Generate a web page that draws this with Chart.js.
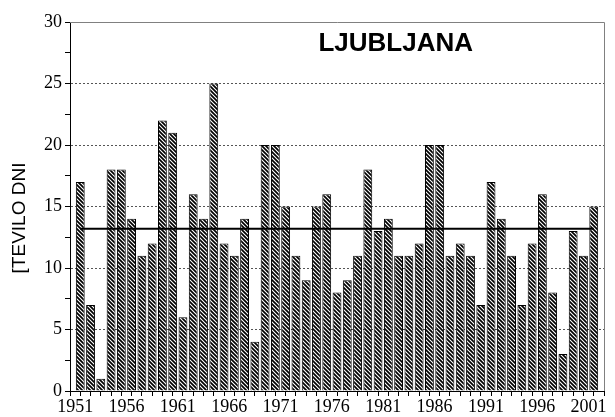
<!DOCTYPE html>
<html>
<head>
<meta charset="utf-8">
<script src="https://cdn.jsdelivr.net/npm/chart.js@4/dist/chart.umd.min.js"></script>
<style>
    html, body { margin: 0; padding: 0; background: #fff; }
    #wrap { width: 615px; height: 417px; }
</style>
</head>
<body>
<div id="wrap"><canvas id="chart" width="615" height="417"></canvas></div>
<script>
'use strict';

// leta (kategorije)
const years = [
    1951, 1952, 1953, 1954, 1955, 1956, 1957, 1958, 1959, 1960,
    1961, 1962, 1963, 1964, 1965, 1966, 1967, 1968, 1969, 1970,
    1971, 1972, 1973, 1974, 1975, 1976, 1977, 1978, 1979, 1980,
    1981, 1982, 1983, 1984, 1985, 1986, 1987, 1988, 1989, 1990,
    1991, 1992, 1993, 1994, 1995, 1996, 1997, 1998, 1999, 2000,
    2001
];
// število dni po letih
const dayCounts = [
    17, 7, 1, 18, 18, 14, 11, 12, 22, 21,
    6, 16, 14, 25, 12, 11, 14, 4, 20, 20,
    15, 11, 9, 15, 16, 8, 9, 11, 18, 13,
    14, 11, 11, 12, 20, 20, 11, 12, 11, 7,
    17, 14, 11, 7, 12, 16, 8, 3, 13, 11,
    15
];
// povprečje (vodoravna črta)
const meanLine = [13.2, 13.2];
const yearLabels = [1951, 1956, 1961, 1966, 1971, 1976, 1981, 1986, 1991, 1996, 2001];
const yMajorTicks = [0, 5, 10, 15, 20, 25, 30];
const stationName = 'LJUBLJANA';
const yTitle = '[TEVILO DNI';

const canvas = document.getElementById('chart');
const ctx = canvas.getContext('2d');

// šrafura za stolpce
function makeHatch() {
    let c = document.createElement('canvas');
    c.width = 4;
    c.height = 4;
    let g = c.getContext('2d');
    g.fillStyle = '#fff';
    g.fillRect(0, 0, 4, 4);
    g.strokeStyle = '#000';
    g.lineWidth = 1.7;
    g.beginPath();
    g.moveTo(-1, -1); g.lineTo(5, 5);
    g.moveTo(-1, 3); g.lineTo(1, 5);
    g.moveTo(3, -1); g.lineTo(5, 1);
    g.stroke();
    return ctx.createPattern(c, 'repeat');
}

// okvir zgoraj in desno, naslov, oznaka osi y
const decor = {
    id: 'decor',
    afterDraw(chart) {
        let a = chart.chartArea;
        let c = chart.ctx;
        c.save();
        c.strokeStyle = '#808080';
        c.lineWidth = 1;
        c.beginPath();
        c.moveTo(a.left, a.top + 0.5);
        c.lineTo(a.right + 0.5, a.top + 0.5);
        c.lineTo(a.right + 0.5, a.bottom);
        c.stroke();

        c.fillStyle = '#000';
        c.font = 'bold 26px "Liberation Sans", Arial, sans-serif';
        c.textAlign = 'center';
        c.textBaseline = 'middle';
        c.fillText(stationName, a.left + a.width * 0.61, a.top + 22);

        c.translate(20, 218);
        c.rotate(-Math.PI / 2);
        c.font = '19px "Liberation Sans", Arial, sans-serif';
        c.fillText(yTitle, 0, 0);
        c.restore();
    }
};

const xTickValues = years.concat([years[years.length - 1] + 1]);

new Chart(ctx, {
    data: {
        datasets: [
            {
                type: 'line',
                data: [
                    { x: years[0] + 0.5, y: meanLine[0] },
                    { x: years[years.length - 1] + 0.5, y: meanLine[1] },
                ],
                borderColor: '#000',
                borderWidth: 2,
                pointRadius: 0,
                order: 1,
            },
            {
                type: 'bar',
                data: years.map((y, i) => ({ x: y + 0.5, y: dayCounts[i] })),
                backgroundColor: makeHatch(),
                borderColor: '#000',
                borderWidth: 1,
                borderSkipped: 'bottom',
                barPercentage: 0.86,
                categoryPercentage: 1,
                order: 2,
            },
        ],
    },
    options: {
        responsive: false,
        animation: false,
        devicePixelRatio: 1,
        layout: { padding: { top: 22, right: 11, left: 0, bottom: 0 } },
        plugins: {
            legend: { display: false },
            tooltip: { enabled: false },
        },
        scales: {
            x: {
                type: 'linear',
                min: years[0],
                max: years[years.length - 1] + 1,
                afterBuildTicks: (s) => {
                    s.ticks = xTickValues.map((v) => ({ value: v }));
                },
                afterFit: (s) => { s.height = 26; },
                ticks: {
                    autoSkip: false,
                    maxRotation: 0,
                    padding: 0,
                    color: '#000',
                    font: { family: '"Liberation Serif", "Times New Roman", serif', size: 18 },
                    callback: (v) => (yearLabels.includes(v) ? String(v) : ''),
                },
                grid: { drawOnChartArea: false, tickLength: 5, color: '#000' },
                border: { color: '#000', width: 1 },
            },
            y: {
                min: 0,
                max: 30,
                afterFit: (s) => { s.width = 70; },
                ticks: {
                    stepSize: 2.5,
                    padding: 3,
                    color: '#000',
                    font: { family: '"Liberation Serif", "Times New Roman", serif', size: 18 },
                    callback: (v) => (yMajorTicks.includes(v) ? String(v) : ''),
                },
                grid: {
                    color: (c) => {
                        let v = c.tick ? c.tick.value : 0;
                        return v % 5 === 0 && v > 0 && v < 30 ? '#555' : 'rgba(0,0,0,0)';
                    },
                    tickColor: '#000',
                    tickLength: 5,
                    lineWidth: 1,
                },
                border: { color: '#000', width: 1, dash: [2, 2] },
            },
        },
    },
    plugins: [decor],
});
</script>
</body>
</html>
